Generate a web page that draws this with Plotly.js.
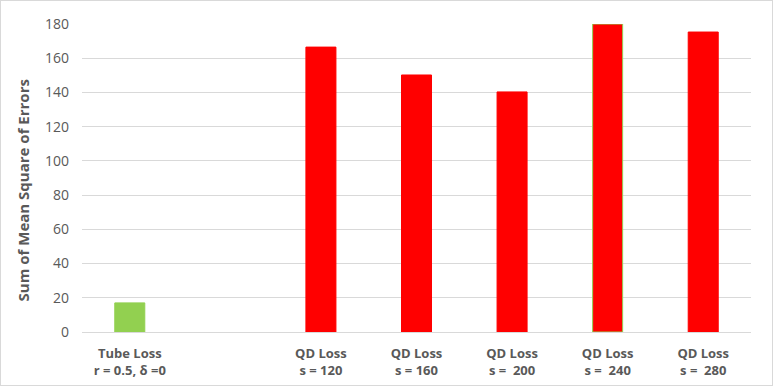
<!DOCTYPE html>
<html>
<head>
<meta charset="utf-8">
<script src="https://cdn.plot.ly/plotly-3.0.1.min.js"></script>
<style>
  body { margin: 0; background: #fff; }
  #chart { width: 771px; height: 384px; border: 1px solid #d9d9d9; }
</style>
</head>
<body>
<div id="chart"></div>
<script>
// categories (the blank one is the empty slot between the two groups)
var categories = ['Tube Loss<br>r = 0.5, δ =0', ' ', 'QD Loss<br>s = 120', 'QD Loss<br>s = 160',
                  'QD Loss<br>s =  200', 'QD Loss<br>s =  240', 'QD Loss<br>s =  280'];
var sse = [17, null, 166.5, 150.2, 140.3, 180, 175.3];
var barColors = ['#92d050', '#92d050', '#ff0000', '#ff0000', '#ff0000', '#ff0000', '#ff0000'];
var edgeColors = ['#92d050', '#92d050', '#ff0000', '#ff0000', '#ff0000', '#92d050', '#ff0000'];
var yTitle = 'Sum of Mean Square of Errors';

var trace = {
    x: categories,
    y: sse,
    type: 'bar',
    marker: {
        color: barColors,
        line: { color: edgeColors, width: 1 }
    },
    hoverinfo: 'x+y'
};

var layout = {
    width: 771,
    height: 384,
    margin: { l: 81, r: 21, t: 23, b: 53 },
    paper_bgcolor: '#fff',
    plot_bgcolor: '#fff',
    bargap: 0.686,
    showlegend: false,
    font: { family: 'Open Sans, sans-serif', color: '#595959' },
    xaxis: {
        type: 'category',
        categoryorder: 'array',
        categoryarray: categories,
        tickfont: { size: 13, color: '#595959', family: 'Open Sans, sans-serif', weight: 'bold' },
        showgrid: false,
        showline: false,
        zeroline: false,
        ticks: '',
        ticklabelstandoff: 12
    },
    yaxis: {
        range: [0, 180],
        dtick: 20,
        gridcolor: '#d9d9d9',
        gridwidth: 1,
        zeroline: true,
        zerolinecolor: '#d9d9d9',
        zerolinewidth: 1,
        showline: false,
        ticks: '',
        ticklabelstandoff: 12,
        tickfont: { size: 14, color: '#595959' }
    },
    // axis title drawn as an annotation so it can sit a little below centre, as in the original
    annotations: [{
        text: yTitle,
        xref: 'paper', yref: 'paper',
        x: -0.088, y: 0.46,
        xanchor: 'center', yanchor: 'middle',
        textangle: -90,
        showarrow: false,
        font: { size: 15, color: '#595959', weight: 'bold' }
    }]
};

Plotly.newPlot('chart', [trace], layout, { displayModeBar: false });
</script>
</body>
</html>
